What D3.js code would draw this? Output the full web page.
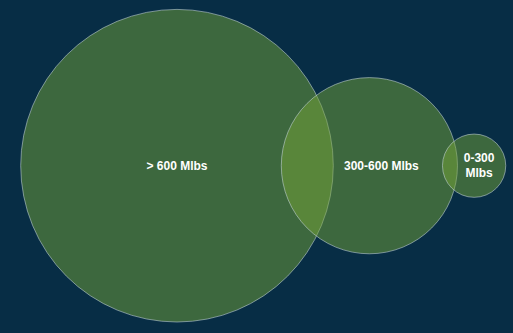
<!DOCTYPE html>
<html><head><meta charset="utf-8">
<script src="https://cdn.jsdelivr.net/npm/d3@7"></script>
<style>html,body{margin:0;padding:0;background:#072d45;}svg{display:block;}</style>
</head><body>
<script>
const categories = ["> 600 Mlbs", "300-600 Mlbs", "0-300 Mlbs"];
const labelLines = [["> 600 Mlbs"], ["300-600 Mlbs"], ["0-300", "Mlbs"]];
const values = [24400, 7750, 1000];
const overlaps = [52, 15];

const W = 513, H = 333;
const svg = d3.select("body").append("svg").attr("width", W).attr("height", H);
svg.append("rect").attr("width", W).attr("height", H).attr("fill", "#072d45");

const r = d3.scaleSqrt().domain([0, d3.max(values)]).range([0, 156.3]);
const cy = 165.7;
const nodes = [];
let x = 20.7 + r(values[0]);
values.forEach((v, i) => {
  if (i > 0) x += r(values[i - 1]) + r(v) - overlaps[i - 1];
  nodes.push({ name: categories[i], lines: labelLines[i], r: r(v), cx: x });
});

svg.selectAll("circle.c").data(nodes).join("circle")
  .attr("class", "c")
  .attr("cx", d => d.cx).attr("cy", cy).attr("r", d => d.r)
  .attr("fill", "rgb(119,165,55)").attr("fill-opacity", 0.49)
  .attr("stroke", "rgba(200,215,220,0.55)").attr("stroke-width", 1);

const labelDx = [0, 12, 5];
const g = svg.selectAll("text.l").data(nodes).join("text")
  .attr("class", "l")
  .attr("x", (d, i) => d.cx + labelDx[i]).attr("y", cy)
  .attr("text-anchor", "middle")
  .attr("font-family", "Liberation Sans, Arial, sans-serif")
  .attr("font-weight", "bold").attr("font-size", 12).attr("fill", "#ffffff");
g.each(function(d) {
  const t = d3.select(this);
  const n = d.lines.length;
  d.lines.forEach((ln, j) => {
    t.append("tspan").attr("x", t.attr("x"))
      .attr("y", cy + (j - (n - 1) / 2) * 15)
      .attr("dy", "0.35em").text(ln);
  });
});
</script>
</body></html>
